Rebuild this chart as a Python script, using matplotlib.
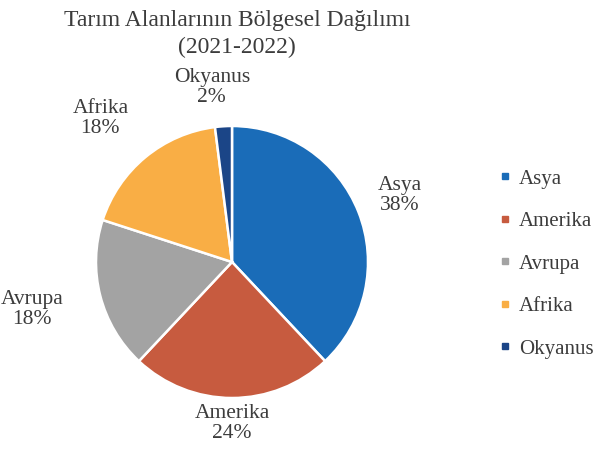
import matplotlib
matplotlib.use("Agg")
import matplotlib.pyplot as plt
from matplotlib.lines import Line2D
import numpy as np

categories = ["Asya", "Amerika", "Avrupa", "Afrika", "Okyanus"]
values = [38, 24, 18, 18, 2]
pct_labels = ["38%", "24%", "18%", "18%", "2%"]
title = "Tarım Alanlarının Bölgesel Dağılımı\n(2021-2022)"

colors = ["#1a6cb8", "#c75b3f", "#a3a3a3", "#f9ae45", "#1b4587"]
label_dist = [1.325, 1.185, 1.51, 1.43, 1.29]
label_dang = [0, 0, -1, 3, 3]
txt_color = "#3c3c3c"

plt.rcParams['font.family'] = ['Liberation Serif', 'DejaVu Serif']

fig = plt.figure(figsize=(6, 4.54), dpi=100)
cx, cy, r = 232, 262, 136
W, H = 600, 454
ax = fig.add_axes([(cx - r) / W, 1 - (cy + r) / H, 2 * r / W, 2 * r / H])
wedges, _ = ax.pie(values, colors=colors, startangle=90, counterclock=False,
                   wedgeprops=dict(edgecolor='white', linewidth=1.8), radius=1)
ax.set_xlim(-1, 1)
ax.set_ylim(-1, 1)
ax.set_aspect('equal')
ax.axis('off')

for w, cat, pct, d, da in zip(wedges, categories, pct_labels, label_dist, label_dang):
    ang = np.deg2rad((w.theta1 + w.theta2) / 2 + da)
    ax.text(d * np.cos(ang), d * np.sin(ang), f"{cat}\n{pct}", ha='center', va='center',
            fontsize=15.5, color=txt_color, linespacing=1.08, clip_on=False)

fig.text(237 / W, 1 - 34 / H, title, ha='center', va='center', fontsize=17,
         color=txt_color, linespacing=1.35)

handles = [Line2D([0], [0], marker='s', linestyle='none', markersize=5,
                  markerfacecolor=c, markeredgecolor=c) for c in colors]
leg = fig.legend(handles, categories, loc='center left', bbox_to_anchor=(495 / W, 1 - 264 / H),
                 frameon=False, fontsize=15, handlelength=0.6, handletextpad=0.35,
                 labelspacing=1.1, borderaxespad=0, borderpad=0.2)
for t in leg.get_texts():
    t.set_color(txt_color)

fig.savefig("out.png", dpi=100, facecolor='white')
